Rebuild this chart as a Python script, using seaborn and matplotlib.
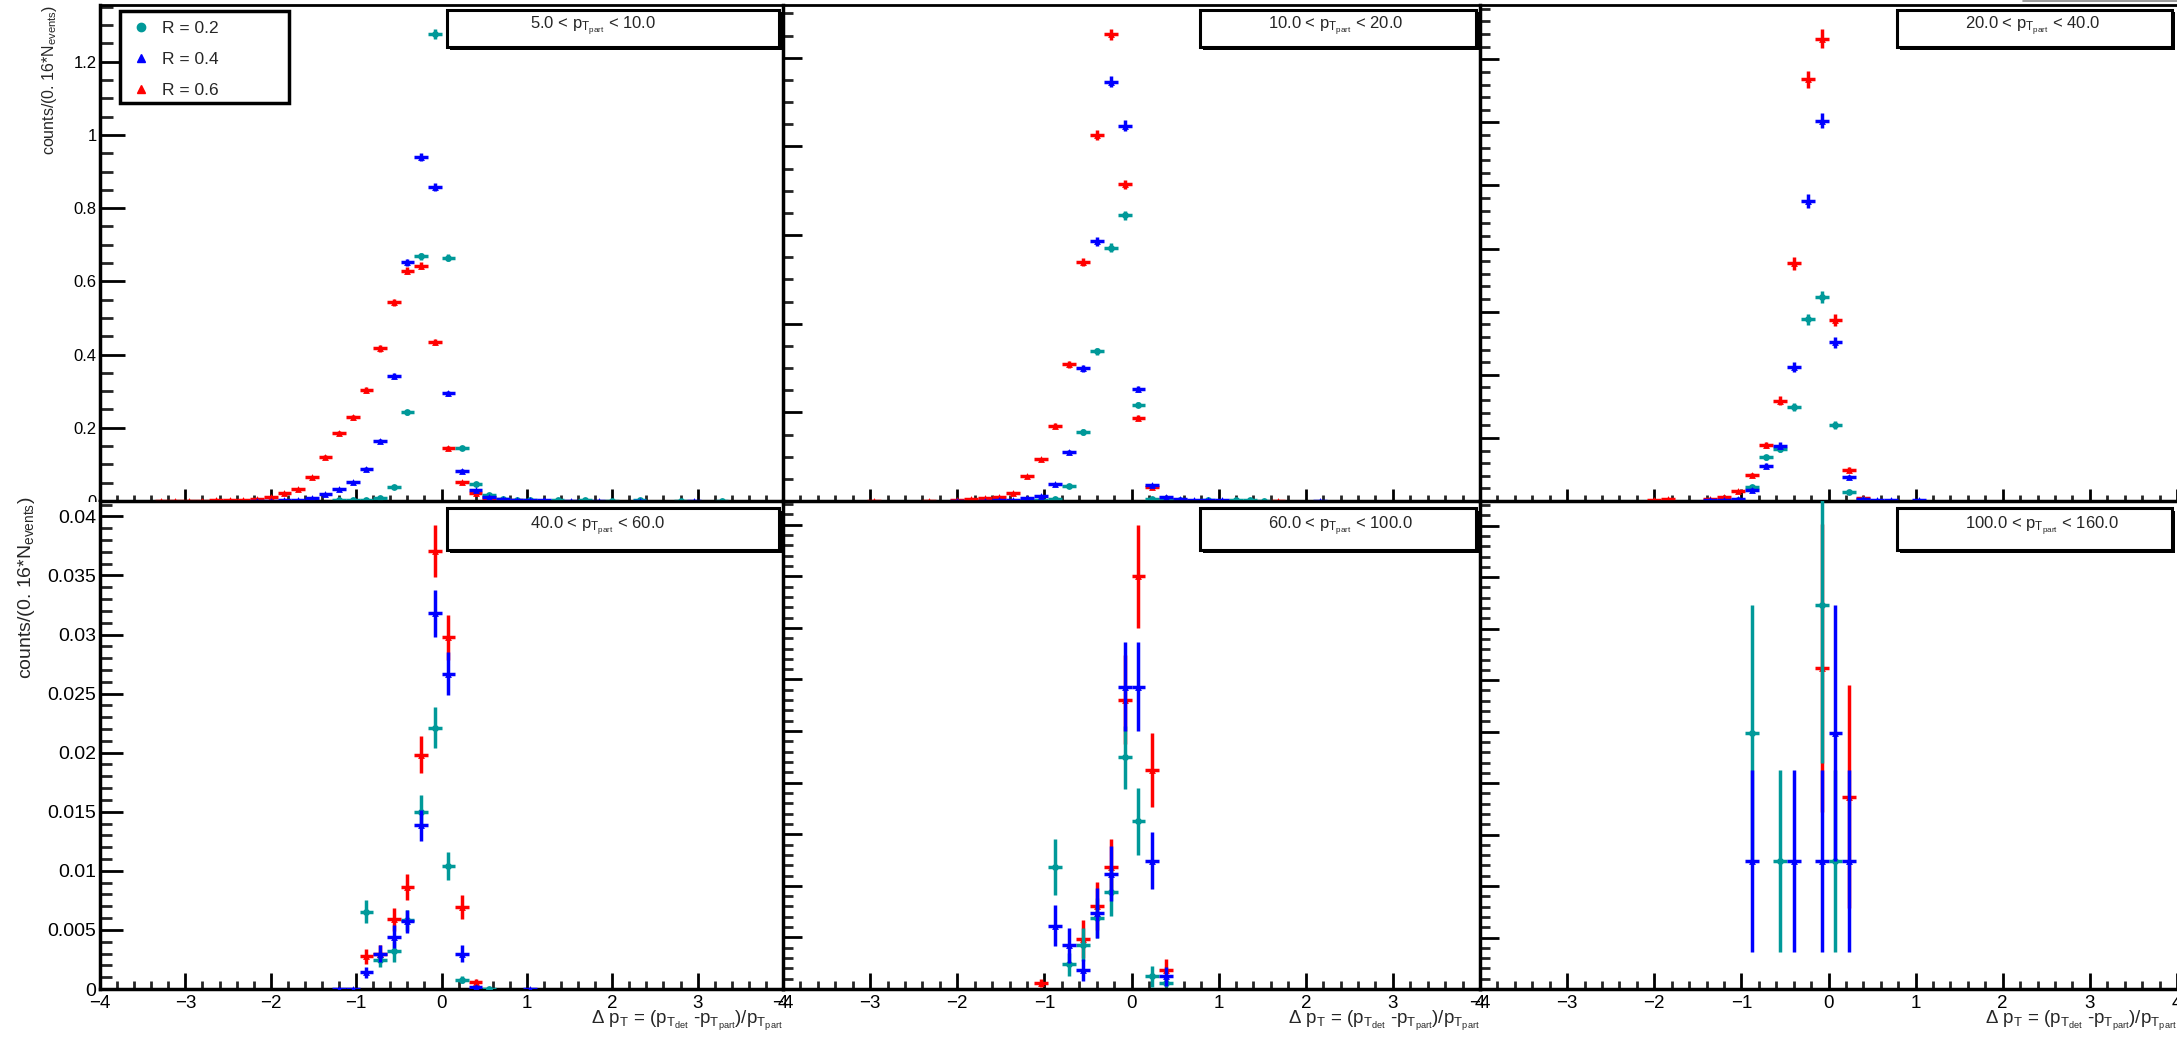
import matplotlib
matplotlib.use("Agg")
import matplotlib.pyplot as plt
import seaborn as sns
from matplotlib.patches import Rectangle
from matplotlib.lines import Line2D
from matplotlib.ticker import MultipleLocator, FuncFormatter

# ---------------- data ----------------
# 5 < pT < 10
TL_X_R02 = [-1.20, -1.04, -0.88, -0.72, -0.56, -0.40, -0.24, -0.08, 0.08, 0.24, 0.40, 0.56, 0.72, 0.88, 1.04, 1.36, 1.68, 2.00, 2.32, 2.80, 3.28]
TL_Y_R02 = [0.002, 0.003, 0.004, 0.007, 0.039, 0.242, 0.668, 1.275, 0.665, 0.144, 0.046, 0.016, 0.005, 0.003, 0.002, 0.002, 0.002, 0.001, 0.002, 0.001, 0.001]
TL_E_R02 = [0.001, 0.001, 0.001, 0.002, 0.004, 0.006, 0.010, 0.014, 0.010, 0.005, 0.003, 0.002, 0.001, 0.001, 0.001, 0.001, 0.001, 0.001, 0.001, 0.001, 0.001]
TL_X_R04 = [-2.16, -2.00, -1.84, -1.68, -1.52, -1.36, -1.20, -1.04, -0.88, -0.72, -0.56, -0.40, -0.24, -0.08, 0.08, 0.24, 0.40, 0.56, 0.72, 0.88, 1.04, 1.20, 1.52, 1.84, 2.32, 2.96]
TL_Y_R04 = [0.001, 0.001, 0.002, 0.003, 0.007, 0.018, 0.033, 0.051, 0.087, 0.164, 0.342, 0.652, 0.940, 0.858, 0.294, 0.083, 0.030, 0.012, 0.005, 0.003, 0.002, 0.002, 0.001, 0.001, 0.001, 0.001]
TL_E_R04 = [0.001, 0.001, 0.001, 0.001, 0.002, 0.002, 0.003, 0.004, 0.005, 0.006, 0.008, 0.010, 0.012, 0.011, 0.007, 0.004, 0.002, 0.002, 0.001, 0.001, 0.001, 0.001, 0.001, 0.001, 0.001, 0.001]
TL_X_R06 = [-3.28, -3.12, -2.96, -2.80, -2.64, -2.48, -2.32, -2.16, -2.00, -1.84, -1.68, -1.52, -1.36, -1.20, -1.04, -0.88, -0.72, -0.56, -0.40, -0.24, -0.08, 0.08, 0.24, 0.40, 0.56, 0.72, 0.88, 1.04]
TL_Y_R06 = [0.001, 0.001, 0.001, 0.001, 0.002, 0.002, 0.003, 0.005, 0.011, 0.021, 0.032, 0.065, 0.121, 0.185, 0.229, 0.303, 0.417, 0.543, 0.629, 0.643, 0.434, 0.146, 0.053, 0.021, 0.008, 0.003, 0.002, 0.001]
TL_E_R06 = [0.001, 0.001, 0.001, 0.001, 0.001, 0.001, 0.001, 0.001, 0.002, 0.002, 0.003, 0.004, 0.005, 0.006, 0.007, 0.008, 0.009, 0.010, 0.010, 0.010, 0.009, 0.005, 0.003, 0.002, 0.001, 0.001, 0.001, 0.001]

# 10 < pT < 20
TM_X_R02 = [-1.20, -1.04, -0.88, -0.72, -0.56, -0.40, -0.24, -0.08, 0.08, 0.24, 0.40, 0.56, 0.88, 1.20, 1.36, 1.52]
TM_Y_R02 = [0.001, 0.002, 0.005, 0.033, 0.156, 0.338, 0.571, 0.645, 0.217, 0.004, 0.003, 0.002, 0.002, 0.002, 0.002, 0.001]
TM_E_R02 = [0.001, 0.001, 0.001, 0.003, 0.006, 0.008, 0.010, 0.010, 0.006, 0.001, 0.001, 0.001, 0.001, 0.001, 0.001, 0.001]
TM_X_R04 = [-2.00, -1.68, -1.52, -1.36, -1.20, -1.04, -0.88, -0.72, -0.56, -0.40, -0.24, -0.08, 0.08, 0.24, 0.40, 0.56, 0.72, 0.88, 1.04, 2.16]
TM_Y_R04 = [0.001, 0.001, 0.002, 0.003, 0.006, 0.012, 0.038, 0.111, 0.299, 0.586, 0.946, 0.847, 0.252, 0.036, 0.008, 0.004, 0.003, 0.002, 0.002, 0.001]
TM_E_R04 = [0.001, 0.001, 0.001, 0.001, 0.001, 0.002, 0.003, 0.005, 0.007, 0.010, 0.012, 0.012, 0.007, 0.003, 0.001, 0.001, 0.001, 0.001, 0.001, 0.001]
TM_X_R06 = [-2.96, -2.32, -2.00, -1.84, -1.68, -1.52, -1.36, -1.20, -1.04, -0.88, -0.72, -0.56, -0.40, -0.24, -0.08, 0.08, 0.24, 0.40, 0.56, 1.68]
TM_Y_R06 = [0.001, 0.001, 0.002, 0.004, 0.006, 0.010, 0.017, 0.056, 0.094, 0.170, 0.308, 0.539, 0.826, 1.053, 0.715, 0.188, 0.032, 0.005, 0.002, 0.001]
TM_E_R06 = [0.001, 0.001, 0.001, 0.001, 0.001, 0.002, 0.002, 0.003, 0.004, 0.005, 0.007, 0.009, 0.011, 0.012, 0.010, 0.005, 0.002, 0.001, 0.001, 0.001]

# 20 < pT < 40
TR_X_R02 = [-1.04, -0.88, -0.72, -0.56, -0.40, -0.24, -0.08, 0.08, 0.24, 0.40]
TR_Y_R02 = [0.0010, 0.0108, 0.0346, 0.0412, 0.0747, 0.1441, 0.1618, 0.0602, 0.0069, 0.0010]
TR_E_R02 = [0.0005, 0.0012, 0.0022, 0.0024, 0.0032, 0.0044, 0.0047, 0.0029, 0.0010, 0.0005]
TR_X_R04 = [-1.36, -1.20, -1.04, -0.88, -0.72, -0.56, -0.40, -0.24, -0.08, 0.08, 0.24, 0.40, 0.56, 0.72, 1.04]
TR_Y_R04 = [0.0008, 0.0010, 0.0016, 0.0087, 0.0280, 0.0438, 0.1059, 0.2376, 0.3012, 0.1257, 0.0187, 0.0016, 0.0010, 0.0010, 0.0008]
TR_E_R04 = [0.0004, 0.0005, 0.0006, 0.0013, 0.0022, 0.0027, 0.0040, 0.0055, 0.0060, 0.0041, 0.0016, 0.0006, 0.0005, 0.0005, 0.0004]
TR_X_R06 = [-2.00, -1.84, -1.36, -1.20, -1.04, -0.88, -0.72, -0.56, -0.40, -0.24, -0.08, 0.08, 0.24, 0.40]
TR_Y_R06 = [0.0008, 0.0012, 0.0016, 0.0034, 0.0079, 0.0206, 0.0444, 0.0795, 0.1882, 0.3342, 0.3664, 0.1433, 0.0246, 0.0021]
TR_E_R06 = [0.0004, 0.0005, 0.0006, 0.0008, 0.0012, 0.0018, 0.0025, 0.0035, 0.0050, 0.0066, 0.0072, 0.0045, 0.0020, 0.0006]

# 40 < pT < 60
BL_X_R02 = [-0.88, -0.72, -0.56, -0.40, -0.24, -0.08, 0.08, 0.24, 0.56]
BL_Y_R02 = [0.00653, 0.00247, 0.00319, 0.00580, 0.01501, 0.02212, 0.01039, 0.00078, 0.0]
BL_E_R02 = [0.00097, 0.00065, 0.00091, 0.00090, 0.00138, 0.00173, 0.00120, 0.00030, 0.0]
BL_X_R04 = [-1.20, -1.04, -0.88, -0.72, -0.56, -0.40, -0.24, -0.08, 0.08, 0.24, 0.40, 1.04]
BL_Y_R04 = [0.0, 0.0, 0.00142, 0.00299, 0.00444, 0.00572, 0.01385, 0.03179, 0.02670, 0.00299, 0.00020, 0.0]
BL_E_R04 = [0.0, 0.0, 0.00046, 0.00073, 0.00094, 0.00097, 0.00134, 0.00200, 0.00184, 0.00070, 0.00014, 0.0]
BL_X_R06 = [-0.88, -0.72, -0.56, -0.40, -0.24, -0.08, 0.08, 0.24, 0.40]
BL_Y_R06 = [0.00276, 0.00300, 0.00589, 0.00862, 0.01983, 0.03707, 0.02975, 0.00694, 0.00058]
BL_E_R06 = [0.00064, 0.00070, 0.00094, 0.00109, 0.00155, 0.00218, 0.00189, 0.00102, 0.00029]

# 60 < pT < 100
BM_X_R02 = [-0.88, -0.72, -0.56, -0.40, -0.24, -0.08, 0.08, 0.24, 0.40]
BM_Y_R02 = [0.01185, 0.00239, 0.00428, 0.00687, 0.00936, 0.02248, 0.01624, 0.00123, 0.00056]
BM_E_R02 = [0.00272, 0.00113, 0.00160, 0.00193, 0.00232, 0.00305, 0.00322, 0.00100, 0.00040]
BM_X_R04 = [-0.88, -0.72, -0.56, -0.40, -0.24, -0.08, 0.08, 0.24, 0.40]
BM_Y_R04 = [0.00614, 0.00422, 0.00183, 0.00737, 0.01119, 0.02928, 0.02928, 0.01245, 0.00123]
BM_E_R04 = [0.00200, 0.00166, 0.00110, 0.00242, 0.00266, 0.00432, 0.00432, 0.00279, 0.00093]
BM_X_R06 = [-1.04, -0.56, -0.40, -0.24, -0.08, 0.08, 0.24, 0.40]
BM_Y_R06 = [0.00056, 0.00488, 0.00803, 0.01185, 0.02805, 0.04001, 0.02122, 0.00183]
BM_E_R06 = [0.00040, 0.00183, 0.00232, 0.00272, 0.00430, 0.00498, 0.00362, 0.00106]

# 100 < pT < 160
BR_X_R02 = [-0.88, -0.56, -0.08, 0.08]
BR_Y_R02 = [0.02487, 0.01247, 0.03733, 0.01247]
BR_E_R02 = [0.01247, 0.00884, 0.01533, 0.00884]
BR_X_R04 = [-0.88, -0.40, -0.08, 0.08, 0.24]
BR_Y_R04 = [0.01247, 0.01247, 0.01247, 0.02487, 0.01247]
BR_E_R04 = [0.00884, 0.00884, 0.00884, 0.01247, 0.00884]
BR_X_R06 = [-0.08, 0.24]
BR_Y_R06 = [0.03118, 0.01868]
BR_E_R06 = [0.01396, 0.01084]

PT_LOW = ["5.0", "10.0", "20.0", "40.0", "60.0", "100.0"]
PT_HIGH = ["10.0", "20.0", "40.0", "60.0", "100.0", "160.0"]
SERIES_LABELS = ["R = 0.2", "R = 0.4", "R = 0.6"]
BIN_HALF_WIDTH = 0.08

# table built from the arrays above
G = globals()
PANEL_KEYS = ["TL", "TM", "TR", "BL", "BM", "BR"]
SER_KEYS = ["R02", "R04", "R06"]
SERIES = {p: {s: (G[f"{p}_X_{s}"], G[f"{p}_Y_{s}"], G[f"{p}_E_{s}"]) for s in SER_KEYS} for p in PANEL_KEYS}

# ---------------- style ----------------
sns.set_theme(style="ticks")
plt.rcParams["font.family"] = ["Liberation Sans", "DejaVu Sans"]
plt.rcParams["mathtext.fontset"] = "custom"
plt.rcParams["mathtext.rm"] = "Liberation Sans"
plt.rcParams["mathtext.it"] = "Liberation Sans:italic"
plt.rcParams["mathtext.bf"] = "Liberation Sans:bold"
plt.rcParams["mathtext.sf"] = "Liberation Sans"
plt.rcParams["axes.unicode_minus"] = True

COLORS = {"R02": "#009999", "R04": "#0000ff", "R06": "#ff0000"}
MARKERS = {"R02": "o", "R04": "^", "R06": "^"}
DRAW_ORDER = ["R06", "R02", "R04"]
ZBASE = {"R06": 3.0, "R02": 3.2, "R04": 3.4}

W, H = 2177, 1037
PX = 0.72  # points per pixel at dpi 100
fig = plt.figure(figsize=(W / 100, H / 100), dpi=100)
fig.patch.set_facecolor("white")

COLS = [(100, 783), (783, 1480), (1480, 2177)]
ROWS = [(5, 501), (501, 989)]
YLIM = {"TL": 1.355, "TM": 1.119, "TR": 0.393, "BL": 0.0413, "BM": 0.0473, "BR": 0.0474}
YMAJ = {"TL": 0.2, "TM": 0.2, "TR": 0.05, "BL": 0.005, "BM": 0.005, "BR": 0.005}
YMIN = {"TL": 0.05, "TM": 0.05, "TR": 0.01, "BL": 0.001, "BM": 0.001, "BR": 0.001}
BOX_X = [(447, 779), (1200, 1476), (1897, 2172)]
BOX_Y = [(10, 47), (508, 550)]
TEXT_X = [530, 1268, 1965]
TEXT_BASE = [29, 529]


def fx(px):
    return px / W


def fy(py):
    return 1 - py / H


def fmt(v, pos):
    s = "%g" % round(v, 6)
    return s.replace("-", "\u2212")


axes = {}
for i, key in enumerate(PANEL_KEYS):
    r, c = divmod(i, 3)
    x0, x1 = COLS[c]
    y0, y1 = ROWS[r]
    ax = fig.add_axes([fx(x0), fy(y1), (x1 - x0) / W, (y1 - y0) / H])
    ax.set_facecolor("none")
    ax.set_zorder(2 if r == 1 else 0)
    axes[key] = ax

    for s in DRAW_ORDER:
        xs, ys, es = SERIES[key][s]
        ax.errorbar(xs, ys, yerr=es, xerr=BIN_HALF_WIDTH, fmt="none",
                    ecolor=COLORS[s], elinewidth=2.5, capsize=0, zorder=ZBASE[s])
        sns.scatterplot(x=xs, y=ys, ax=ax, color=COLORS[s], marker=MARKERS[s],
                        s=24, linewidth=0, legend=False, zorder=ZBASE[s] + 0.05)

    ax.set_xlim(-4, 4)
    ax.set_ylim(0, YLIM[key])
    ax.set_xlabel("")
    ax.set_ylabel("")
    ax.xaxis.set_major_locator(MultipleLocator(1))
    ax.xaxis.set_minor_locator(MultipleLocator(0.2))
    ax.yaxis.set_major_locator(MultipleLocator(YMAJ[key]))
    ax.yaxis.set_minor_locator(MultipleLocator(YMIN[key]))
    ax.xaxis.set_major_formatter(FuncFormatter(fmt))
    ax.yaxis.set_major_formatter(FuncFormatter(fmt))

    if c == 0:
        ymaj_len, ymin_len = (25, 13) if r == 0 else (23, 12)
    else:
        ymaj_len, ymin_len = 19, 9.5
    xmaj_len, xmin_len = (12, 6) if r == 0 else (16, 8)

    ax.tick_params(axis="y", which="major", direction="in", length=ymaj_len * PX, width=2,
                   left=True, right=False, labelleft=(c == 0), pad=2.5,
                   labelsize=(12 if r == 0 else 14), colors="black")
    ax.tick_params(axis="y", which="minor", direction="in", length=ymin_len * PX, width=2,
                   left=True, right=False)
    ax.tick_params(axis="x", which="major", direction="in", length=xmaj_len * PX, width=2,
                   bottom=True, top=False, labelbottom=(r == 1), pad=4, labelsize=13.5,
                   colors="black")
    ax.tick_params(axis="x", which="minor", direction="in", length=xmin_len * PX, width=2,
                   bottom=True, top=False)
    for side in ["left", "bottom"]:
        ax.spines[side].set_linewidth(2.5)
        ax.spines[side].set_color("black")
    ax.spines["top"].set_linewidth(2.0)
    ax.spines["top"].set_color("black")
    ax.spines["right"].set_visible(False)

    # pT range box with shadow
    bx0, bx1 = BOX_X[c]
    by0, by1 = BOX_Y[r]
    fig.add_artist(Rectangle((fx(bx0 + 2.5), fy(by1 + 2.5)), (bx1 - bx0) / W, (by1 - by0) / H,
                             transform=fig.transFigure, facecolor="black", edgecolor="none",
                             zorder=5))
    fig.add_artist(Rectangle((fx(bx0), fy(by1)), (bx1 - bx0) / W, (by1 - by0) / H,
                             transform=fig.transFigure, facecolor="white", edgecolor="black",
                             linewidth=2.2, zorder=5.1))
    fig.text(fx(TEXT_X[c]), fy(TEXT_BASE[r]),
             PT_LOW[i] + r" < p$_{\mathrm{T}_{\mathrm{part}}}$ < " + PT_HIGH[i],
             ha="left", va="baseline", fontsize=12, zorder=6)

    if r == 1:
        fig.text(fx(x1), fy(1024),
                 r"$\Delta$ p$_{\mathrm{T}}$ = (p$_{\mathrm{T}_{\mathrm{det}}}$ -p$_{\mathrm{T}_{\mathrm{part}}}$)/p$_{\mathrm{T}_{\mathrm{part}}}$",
                 ha="right", va="baseline", fontsize=13.5, zorder=6)

# white pad region hiding the cut top-left "0" label
fig.add_artist(Rectangle((0, 0), fx(99), fy(502), transform=fig.transFigure,
                         facecolor="white", edgecolor="none", zorder=1))

# y-axis titles
fig.text(fx(50), fy(5), r"counts/(0. 16*N$_{\mathrm{events}}$)", rotation=90,
         ha="center", va="top", fontsize=11.5, zorder=6)
fig.text(fx(27), fy(496), r"counts/(0. 16*N$_{\mathrm{events}}$)", rotation=90,
         ha="center", va="top", fontsize=14, zorder=6)

# legend (frame drawn as a patch, entries by a figure legend on top of it)
fig.add_artist(Rectangle((fx(120), fy(103)), (289 - 120) / W, (103 - 11) / H,
                         transform=fig.transFigure, facecolor="white", edgecolor="black",
                         linewidth=2.5, zorder=5))
handles = [Line2D([], [], marker=MARKERS[s], color=COLORS[s], linestyle="none", markersize=6)
           for s in SER_KEYS]
leg = fig.legend(handles, SERIES_LABELS, loc="upper left",
                 bbox_to_anchor=(fx(132.7), fy(20.5)), bbox_transform=fig.transFigure,
                 frameon=False, fontsize=12.5, borderaxespad=0, borderpad=0,
                 handlelength=1.0, handletextpad=0.7, labelspacing=0.92)
leg.set_zorder(7)

# thin grey line at the very top right
fig.add_artist(Line2D([fx(2023), 1.0], [fy(0.8), fy(0.8)], transform=fig.transFigure,
                      color="#8a8a8a", linewidth=1.2, zorder=6))

fig.savefig("out.png", dpi=100, facecolor="white")
